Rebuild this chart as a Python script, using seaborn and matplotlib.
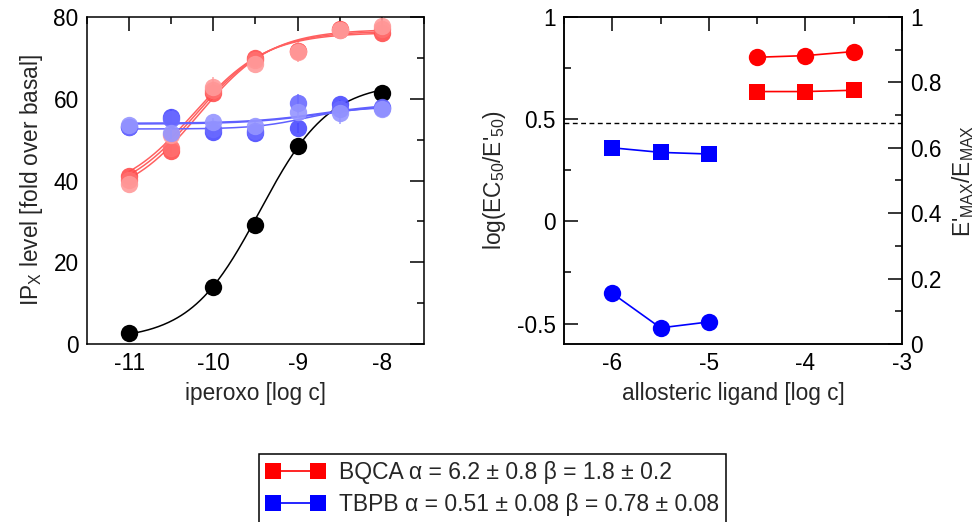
import numpy as np
import matplotlib
matplotlib.use("Agg")
import matplotlib.pyplot as plt
from matplotlib.lines import Line2D
from matplotlib.ticker import MultipleLocator
import seaborn as sns

# ---- concentration-response data (iperoxo, log c) ----
log_c = [-11, -10.5, -10, -9.5, -9, -8.5, -8]

ipx_alone_x = [-11, -10, -9.5, -9, -8]
ipx_alone_y = [2.8, 13.9, 29.1, 48.5, 61.4]
ipx_alone_err = [0.6, 0.8, 1.0, 1.5, 1.0]

bqca_y = [
    [41.1, 47.3, 61.5, 69.9, 71.8, 77.0, 76.2],
    [40.2, 48.0, 62.2, 69.4, 71.6, 76.8, 77.0],
    [39.1, 51.2, 62.9, 68.6, 71.4, 76.9, 77.7],
]
bqca_err = [
    [1.0, 1.2, 1.5, 1.0, 1.2, 1.5, 1.0],
    [1.0, 1.2, 2.0, 1.0, 1.5, 1.8, 1.2],
    [1.0, 1.5, 2.5, 1.0, 2.4, 2.0, 1.5],
]
tbpb_y = [
    [53.0, 55.6, 51.9, 51.5, 52.8, 58.7, 57.8],
    [53.2, 55.0, 52.5, 52.2, 58.9, 57.5, 58.0],
    [53.6, 51.7, 54.2, 53.3, 56.8, 56.4, 57.4],
]
tbpb_err = [
    [0.8, 1.8, 1.0, 1.2, 1.2, 1.0, 0.8],
    [0.8, 1.5, 1.0, 1.5, 2.3, 1.5, 0.8],
    [0.8, 1.5, 1.0, 1.0, 1.5, 2.5, 0.8],
]

# fitted Hill parameters: bottom, top, logEC50, slope
fit_alone = (1.0, 64.0, -9.45, 1.05)
fit_bqca = [(36.3, 76.2, -10.24, 1.0), (35.7, 76.6, -10.21, 1.0), (35.0, 77.0, -10.18, 1.0)]
fit_tbpb = [(54.0, 59.0, -8.7, 1.0), (52.6, 58.0, -8.9, 1.4), (53.8, 58.7, -8.72, 1.0)]

# ---- allosteric ligand summary ----
bqca_conc = [-4.5, -4.0, -3.5]
tbpb_conc = [-6.0, -5.5, -5.0]
bqca_log_ratio = [0.803, 0.811, 0.831]
tbpb_log_ratio = [-0.352, -0.521, -0.492]
bqca_emax_ratio = [0.772, 0.772, 0.776]
tbpb_emax_ratio = [0.600, 0.586, 0.581]
reference_level = 0.48

legend_labels = [
    "BQCA \u03b1 = 6.2 \u00b1 0.8 \u03b2 = 1.8 \u00b1 0.2",
    "TBPB \u03b1 = 0.51 \u00b1 0.08 \u03b2 = 0.78 \u00b1 0.08",
]

red_shades = ["#ff4d4d", "#ff6f6f", "#ff9a9a"]
blue_shades = ["#4a4aff", "#6a6aff", "#9595ff"]
red_line = "#ff6060"
blue_line = "#6060ff"

FS = 16.3

sns.set_theme(style="white")
plt.rcParams.update({
    "font.family": ["Liberation Sans", "DejaVu Sans"],
    "mathtext.fontset": "custom",
    "mathtext.rm": "Liberation Sans",
    "mathtext.it": "Liberation Sans:italic",
    "mathtext.bf": "Liberation Sans:bold",
    "axes.unicode_minus": False,
    "font.size": FS,
    "axes.edgecolor": "black",
    "axes.linewidth": 1.1,
    "xtick.color": "black",
    "ytick.color": "black",
})


def hill(x, p):
    b, t, ec, n = p
    return b + (t - b) / (1.0 + 10.0 ** ((ec - x) * n))


def style_axes(ax):
    ax.tick_params(which="both", direction="in", width=1.1, colors="black",
                   labelsize=FS, pad=6)
    ax.tick_params(which="major", length=10)
    ax.tick_params(which="minor", length=5)


fig = plt.figure(figsize=(9.78, 5.22), dpi=100)
ax1 = fig.add_axes([87 / 978, 1 - 344 / 522, 337 / 978, 327 / 522])
ax2 = fig.add_axes([564 / 978, 1 - 344 / 522, 338 / 978, 327 / 522])

# ---- left panel ----
xs = np.linspace(-11, -8, 200)
sns.lineplot(x=xs, y=hill(xs, fit_alone), ax=ax1, color="black", lw=1.1, zorder=2)
ax1.errorbar(ipx_alone_x, ipx_alone_y, yerr=ipx_alone_err, fmt="o", color="black",
             ms=12.5, mew=0, capsize=5, elinewidth=1.1, zorder=3)

for i in range(3):
    sns.lineplot(x=xs, y=hill(xs, fit_bqca[i]), ax=ax1, color=red_line, lw=1.1, zorder=4)
for i in range(3):
    ax1.errorbar(log_c, bqca_y[i], yerr=bqca_err[i], fmt="o", color=red_shades[i],
                 ms=12.5, mew=0, capsize=5, elinewidth=1.1, alpha=0.9, zorder=5)
for i in range(3):
    sns.lineplot(x=xs, y=hill(xs, fit_tbpb[i]), ax=ax1, color=blue_line, lw=1.1, zorder=6)
for i in range(3):
    ax1.errorbar(log_c, tbpb_y[i], yerr=tbpb_err[i], fmt="o", color=blue_shades[i],
                 ms=12.5, mew=0, capsize=5, elinewidth=1.1, alpha=0.9, zorder=7)

ax1.set_xlim(-11.5, -7.5)
ax1.set_ylim(0, 80)
ax1.xaxis.set_major_locator(MultipleLocator(1))
ax1.xaxis.set_minor_locator(MultipleLocator(0.5))
ax1.yaxis.set_major_locator(MultipleLocator(20))
ax1.yaxis.set_minor_locator(MultipleLocator(10))
ax1.tick_params(which="both", top=True, right=True)
style_axes(ax1)
ax1.set_xlabel("iperoxo [log c]", fontsize=FS, labelpad=5)
ax1.set_ylabel("IP$_\\mathrm{X}$ level [fold over basal]", fontsize=FS, labelpad=6)

# ---- right panel ----
ax3 = ax2.twinx()
ax2.axhline(reference_level, color="black", ls=(0, (3.5, 2.5)), lw=1.0, zorder=1)
sns.lineplot(x=bqca_conc, y=bqca_log_ratio, ax=ax2, color="red", lw=1.2,
             marker="o", markersize=12.5, markeredgewidth=0, zorder=3)
sns.lineplot(x=tbpb_conc, y=tbpb_log_ratio, ax=ax2, color="blue", lw=1.2,
             marker="o", markersize=12.5, markeredgewidth=0, zorder=3)
sns.lineplot(x=bqca_conc, y=bqca_emax_ratio, ax=ax3, color="red", lw=1.2,
             marker="s", markersize=11.5, markeredgewidth=0, zorder=3)
sns.lineplot(x=tbpb_conc, y=tbpb_emax_ratio, ax=ax3, color="blue", lw=1.2,
             marker="s", markersize=11.5, markeredgewidth=0, zorder=3)

ax2.set_xlim(-6.5, -3)
ax2.set_ylim(-0.6, 1)
ax3.set_ylim(0, 1)
ax2.xaxis.set_minor_locator(MultipleLocator(0.5))
ax2.yaxis.set_minor_locator(MultipleLocator(0.25))
ax3.yaxis.set_minor_locator(MultipleLocator(0.1))
ax2.set_xticks([-6, -5, -4, -3])
ax2.set_xticklabels(["-6", "-5", "-4", "-3"])
ax2.set_yticks([-0.5, 0, 0.5, 1])
ax2.set_yticklabels(["-0.5", "0", "0.5", "1"])
ax3.set_yticks([0, 0.2, 0.4, 0.6, 0.8, 1])
ax3.set_yticklabels(["0", "0.2", "0.4", "0.6", "0.8", "1"])
ax2.tick_params(which="both", top=True, right=False)
ax3.tick_params(which="both", left=False, right=True)
style_axes(ax2)
style_axes(ax3)
for a in (ax2, ax3):
    for s in a.spines.values():
        s.set_color("black")
        s.set_linewidth(1.1)
ax2.set_xlabel("allosteric ligand [log c]", fontsize=FS, labelpad=5)
ax2.set_ylabel("log(EC$_\\mathrm{50}$/E'$_\\mathrm{50}$)", fontsize=FS, labelpad=6)
ax3.set_ylabel("E'$_\\mathrm{MAX}$/E$_\\mathrm{MAX}$", fontsize=FS, labelpad=6)

# ---- shared legend ----
handles = [
    Line2D([], [], color="red", lw=1.2, marker="s", markersize=11.5, markeredgewidth=0),
    Line2D([], [], color="blue", lw=1.2, marker="s", markersize=11.5, markeredgewidth=0),
]
leg = fig.legend(handles, legend_labels, loc="upper center",
                 bbox_to_anchor=(492.5 / 978, 1 - 454 / 522), numpoints=2,
                 handlelength=2.6, handletextpad=0.6, labelspacing=0.42,
                 borderpad=0.3, borderaxespad=0, fancybox=False, framealpha=1,
                 edgecolor="black", fontsize=16.5)
leg.get_frame().set_linewidth(1.1)

fig.savefig("out.png", dpi=100)
